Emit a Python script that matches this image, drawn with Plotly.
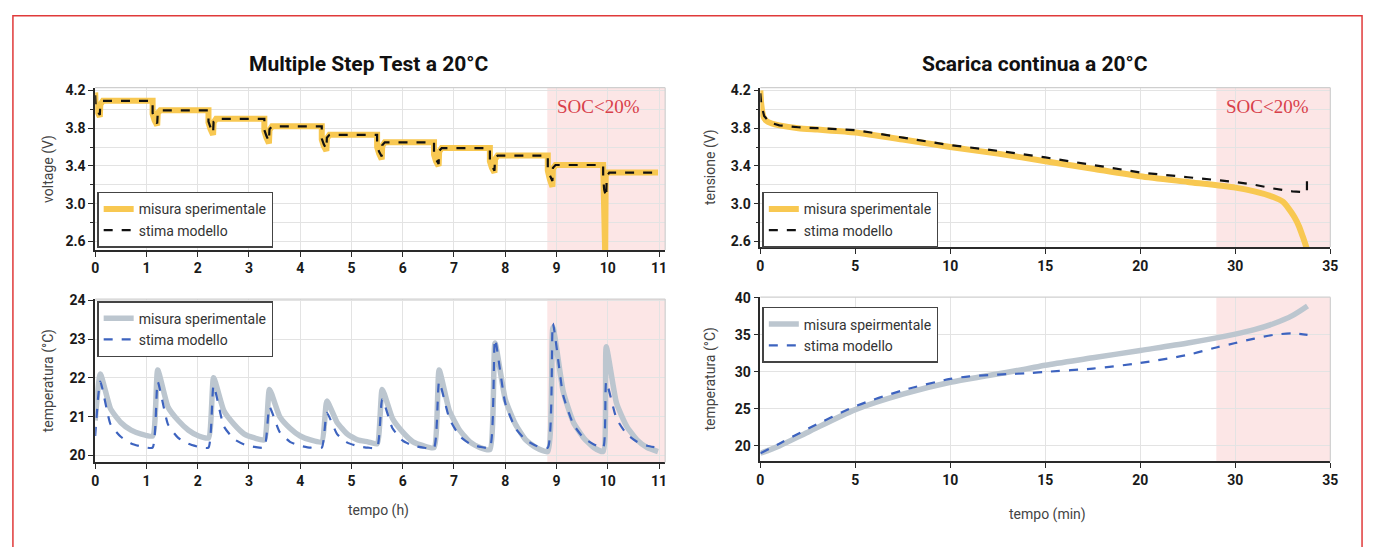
import plotly.graph_objects as go

W, H = 1375, 547

# ---------------- data ----------------
# Multiple step test: voltage (V) vs tempo (h)
tv_meas = [0, 0.01, 0.05, 0.09, 0.10, 0.15,
           1.12, 1.12, 1.16, 1.21, 1.22, 1.27,
           2.21, 2.21, 2.25, 2.30, 2.31, 2.36,
           3.30, 3.30, 3.34, 3.39, 3.40, 3.45,
           4.42, 4.42, 4.46, 4.51, 4.52, 4.57,
           5.50, 5.50, 5.54, 5.59, 5.60, 5.65,
           6.61, 6.61, 6.65, 6.70, 6.71, 6.76,
           7.70, 7.70, 7.74, 7.79, 7.80, 7.85,
           8.83, 8.83, 8.87, 8.92, 8.93, 8.98,
           9.91, 9.92, 9.95, 9.96, 10.00, 10.98]
v_meas = [4.18, 4.02, 3.97, 3.92, 4.05, 4.09,
          4.09, 3.95, 3.88, 3.83, 3.96, 3.99,
          3.99, 3.86, 3.79, 3.73, 3.86, 3.90,
          3.90, 3.77, 3.70, 3.64, 3.78, 3.82,
          3.82, 3.68, 3.61, 3.56, 3.69, 3.73,
          3.73, 3.60, 3.53, 3.47, 3.61, 3.65,
          3.65, 3.52, 3.45, 3.40, 3.55, 3.59,
          3.59, 3.45, 3.38, 3.33, 3.47, 3.51,
          3.51, 3.35, 3.26, 3.18, 3.37, 3.41,
          3.41, 3.20, 2.45, 3.30, 3.33, 3.33]
tv_mod = [0, 0.01, 0.05, 0.09, 0.10, 0.15,
          1.12, 1.12, 1.16, 1.21, 1.22, 1.27,
          2.21, 2.21, 2.25, 2.30, 2.31, 2.36,
          3.30, 3.30, 3.34, 3.39, 3.40, 3.45,
          4.42, 4.42, 4.46, 4.51, 4.52, 4.57,
          5.50, 5.50, 5.54, 5.59, 5.60, 5.65,
          6.61, 6.61, 6.65, 6.70, 6.71, 6.76,
          7.70, 7.70, 7.74, 7.79, 7.80, 7.85,
          8.83, 8.83, 8.87, 8.92, 8.93, 8.98,
          9.91, 9.91, 9.93, 9.97, 9.98, 10.03, 10.98]
v_mod = [4.15, 4.03, 3.98, 3.94, 4.06, 4.09,
         4.09, 3.96, 3.90, 3.85, 3.96, 3.99,
         3.99, 3.87, 3.81, 3.75, 3.87, 3.90,
         3.90, 3.78, 3.72, 3.66, 3.79, 3.82,
         3.82, 3.69, 3.63, 3.58, 3.70, 3.73,
         3.73, 3.61, 3.55, 3.50, 3.62, 3.65,
         3.65, 3.53, 3.47, 3.42, 3.56, 3.59,
         3.59, 3.46, 3.40, 3.35, 3.48, 3.51,
         3.51, 3.37, 3.30, 3.24, 3.38, 3.41,
         3.41, 3.28, 3.15, 3.07, 3.29, 3.33, 3.33]

# Multiple step test: temperatura (°C) vs tempo (h)
tt_meas = [0, 0.10, 0.30, 0.50, 0.70, 0.90,
           1.12, 1.22, 1.42, 1.62, 1.82, 2.02,
           2.21, 2.31, 2.51, 2.71, 2.91, 3.11,
           3.30, 3.40, 3.60, 3.80, 4.00, 4.20,
           4.42, 4.52, 4.72, 4.92, 5.12, 5.32,
           5.50, 5.60, 5.80, 6.00, 6.20, 6.40,
           6.61, 6.71, 6.91, 7.11, 7.31, 7.51,
           7.70, 7.80, 8.00, 8.20, 8.40, 8.60,
           8.83, 8.93, 9.13, 9.33, 9.53, 9.73,
           9.91, 9.97, 10.17, 10.37, 10.57, 10.77, 10.98]
temp_meas = [20.9, 22.1, 21.2, 20.85, 20.65, 20.55,
             20.5, 22.2, 21.25, 20.9, 20.65, 20.5,
             20.45, 22.0, 21.15, 20.8, 20.55, 20.45,
             20.4, 21.7, 21.0, 20.7, 20.5, 20.4,
             20.35, 21.4, 20.85, 20.55, 20.4, 20.35,
             20.3, 21.7, 20.95, 20.6, 20.35, 20.25,
             20.2, 22.2, 21.15, 20.65, 20.35, 20.2,
             20.15, 22.9, 21.45, 20.8, 20.4, 20.2,
             20.1, 23.3, 21.65, 20.85, 20.45, 20.2,
             20.1, 22.8, 21.35, 20.75, 20.4, 20.2, 20.1]
tt_mod = tt_meas
temp_mod = [20.5, 21.9, 20.8, 20.48, 20.31, 20.23,
            20.2, 21.9, 20.8, 20.45, 20.3, 20.22,
            20.2, 21.8, 20.75, 20.42, 20.28, 20.22,
            20.2, 21.25, 20.6, 20.35, 20.25, 20.2,
            20.2, 21.1, 20.55, 20.33, 20.24, 20.2,
            20.2, 21.45, 20.7, 20.38, 20.25, 20.2,
            20.2, 21.9, 20.95, 20.5, 20.3, 20.22,
            20.2, 23.0, 21.35, 20.7, 20.4, 20.25,
            20.2, 23.4, 21.55, 20.8, 20.45, 20.28,
            20.2, 21.9, 20.95, 20.55, 20.35, 20.25, 20.2]

# Scarica continua: tensione (V) vs tempo (axis positions)
xc_meas = [0, 0.05, 0.15, 0.3, 0.6, 1, 2, 3, 5, 7.5, 10, 12.5, 15, 17.5,
           20, 22.5, 25, 26, 27, 27.5, 27.8, 28.1, 28.35, 28.55, 28.75]
vc_meas = [4.2, 4.05, 3.93, 3.88, 3.85, 3.83, 3.80, 3.785, 3.755, 3.68, 3.60,
           3.53, 3.45, 3.37, 3.29, 3.23, 3.17, 3.13, 3.07, 3.02, 2.95, 2.86,
           2.76, 2.65, 2.53]
xc_mod = [0, 0.05, 0.2, 0.5, 1, 2, 3, 5, 7.5, 10, 12.5, 15, 17.5, 20, 22.5,
          25, 26, 27, 28, 28.75, 28.77, 28.77]
vc_mod = [4.17, 4.05, 3.93, 3.86, 3.83, 3.81, 3.80, 3.78, 3.70, 3.62, 3.56,
          3.49, 3.41, 3.33, 3.28, 3.23, 3.20, 3.16, 3.13, 3.12, 3.12, 3.27]

# Scarica continua: temperatura (°C)
xct_meas = [0, 1, 2.5, 5, 7.5, 10, 12, 14, 15, 17.5, 20, 22.5, 25, 26, 27, 28, 28.8]
tc_meas = [19.0, 20.0, 21.85, 24.9, 27.0, 28.6, 29.5, 30.4, 30.9, 31.9, 32.9,
           33.9, 35.1, 35.7, 36.5, 37.6, 38.9]
xct_mod = [0, 1, 2.5, 5, 7.5, 10, 11, 12, 13, 14, 15, 17.5, 20, 22.5, 24, 25,
           26, 27, 28, 28.8]
tc_mod = [19.0, 20.3, 22.3, 25.35, 27.5, 29.05, 29.4, 29.55, 29.7, 29.8, 30.0,
          30.45, 31.2, 32.3, 33.3, 33.9, 34.5, 35.0, 35.2, 35.0]

left_xticks = list(range(0, 12))
right_xtickvals = [0, 5, 10, 15, 20, 25, 30]
right_xticktext = ["0", "5", "10", "15", "20", "30", "35"]

soc_left_start = 8.82
soc_right_start = 24.0

# ---------------- styles ----------------
YELLOW = "#f8c851"
GRAYT = "#bcc6cf"
BLUE = "#3d63bf"
SHADE = "#fce6e6"
GRID = "#e3e3e3"
AX = "#2a2a2a"
FONT = "Roboto"

def px(x):
    return x / W

def py(y):
    return 1 - y / H

fig = go.Figure()

fig.add_trace(go.Scatter(x=tv_meas, y=v_meas, mode="lines", name="misura sperimentale",
                         line=dict(color=YELLOW, width=6), xaxis="x", yaxis="y", legend="legend"))
fig.add_trace(go.Scatter(x=tv_mod, y=v_mod, mode="lines", name="stima modello",
                         line=dict(color="#111111", width=2.2, dash="dash"), xaxis="x", yaxis="y",
                         legend="legend"))
fig.add_trace(go.Scatter(x=tt_meas, y=temp_meas, mode="lines", name="misura sperimentale",
                         line=dict(color=GRAYT, width=5.5, shape="spline", smoothing=0.5),
                         xaxis="x2", yaxis="y2", legend="legend2"))
fig.add_trace(go.Scatter(x=tt_mod, y=temp_mod, mode="lines", name="stima modello",
                         line=dict(color=BLUE, width=2.2, dash="dash", shape="spline", smoothing=0.5),
                         xaxis="x2", yaxis="y2", legend="legend2"))
fig.add_trace(go.Scatter(x=xc_meas, y=vc_meas, mode="lines", name="misura sperimentale",
                         line=dict(color=YELLOW, width=6, shape="spline", smoothing=0.6),
                         xaxis="x3", yaxis="y3", legend="legend3"))
fig.add_trace(go.Scatter(x=xc_mod, y=vc_mod, mode="lines", name="stima modello",
                         line=dict(color="#111111", width=2.2, dash="dash"), xaxis="x3", yaxis="y3",
                         legend="legend3"))
fig.add_trace(go.Scatter(x=xct_meas, y=tc_meas, mode="lines", name="misura speirmentale",
                         line=dict(color=GRAYT, width=5.5, shape="spline", smoothing=0.8),
                         xaxis="x4", yaxis="y4", legend="legend4"))
fig.add_trace(go.Scatter(x=xct_mod, y=tc_mod, mode="lines", name="stima modello",
                         line=dict(color=BLUE, width=2.2, dash="dash", shape="spline", smoothing=0.8),
                         xaxis="x4", yaxis="y4", legend="legend4"))

tickfont = dict(family=FONT, size=14, color="#1a1a1a", weight="bold")

def xax(domain, anchor, rng, **kw):
    d = dict(domain=domain, anchor=anchor, range=rng, showline=True, linecolor=AX, linewidth=1.5,
             ticks="outside", ticklen=5, tickcolor=AX, tickwidth=1.2, showgrid=True,
             gridcolor=GRID, gridwidth=1, zeroline=False, tickfont=tickfont, fixedrange=True)
    d.update(kw)
    return d

def yax(domain, anchor, rng, **kw):
    d = dict(domain=domain, anchor=anchor, range=rng, showline=True, linecolor=AX, linewidth=1.5,
             ticks="outside", ticklen=5, tickcolor=AX, tickwidth=1.2, showgrid=True,
             gridcolor=GRID, gridwidth=1, zeroline=False, tickfont=tickfont, fixedrange=True)
    d.update(kw)
    return d

LX = [px(92), px(667)]
RX = [px(763), px(1338)]
TLY = [py(247), py(82)]
BLY = [py(463), py(297)]
TRY = [py(244), py(82)]
BRY = [py(462), py(295)]

vminor = dict(dtick=0.2, tick0=2.6, ticks="outside", ticklen=3, tickcolor=AX, showgrid=True,
              gridcolor=GRID)

fig.update_layout(
    width=W, height=H, margin=dict(l=0, r=0, t=0, b=0), autosize=False,
    paper_bgcolor="white", plot_bgcolor="white",
    font=dict(family=FONT, color="#333"),
    xaxis=xax(LX, "y", [0, 11.12], tickvals=left_xticks),
    yaxis=yax(TLY, "x", [2.51, 4.23], tick0=2.6, dtick=0.4, tickformat=".1f", minor=vminor),
    xaxis2=xax(LX, "y2", [0, 11.12], tickvals=left_xticks),
    yaxis2=yax(BLY, "x2", [19.82, 24.03], tick0=20, dtick=1),
    xaxis3=xax(RX, "y3", [0, 30], tickvals=right_xtickvals, ticktext=right_xticktext),
    yaxis3=yax(TRY, "x3", [2.54, 4.23], tick0=2.6, dtick=0.4, tickformat=".1f", minor=vminor),
    xaxis4=xax(RX, "y4", [0, 30], tickvals=right_xtickvals, ticktext=right_xticktext),
    yaxis4=yax(BRY, "x4", [17.9, 40.1], tick0=20, dtick=5),
    showlegend=True,
)

legstyle = dict(bgcolor="white", bordercolor="#444", borderwidth=1.5,
                font=dict(family=FONT, size=14, color="#333"), xanchor="left", yanchor="top",
                tracegroupgap=0, itemwidth=30)
fig.update_layout(
    legend=dict(x=px(94), y=py(188), **legstyle),
    legend2=dict(x=px(94), y=py(299), **legstyle),
    legend3=dict(x=px(765), y=py(188), **legstyle),
    legend4=dict(x=px(765), y=py(305), **legstyle),
)

shapes = []
# SOC<20% shaded regions
for xr, yr in [("x", "y"), ("x2", "y2")]:
    shapes.append(dict(type="rect", xref=xr, yref=yr + " domain", x0=soc_left_start, x1=11.12,
                       y0=0, y1=1, fillcolor=SHADE, line=dict(width=0), layer="below"))
for xr, yr in [("x3", "y3"), ("x4", "y4")]:
    shapes.append(dict(type="rect", xref=xr, yref=yr + " domain", x0=soc_right_start, x1=30,
                       y0=0, y1=1, fillcolor=SHADE, line=dict(width=0), layer="below"))
# light frame on top/right
for xr, yr in [("x", "y"), ("x2", "y2"), ("x3", "y3"), ("x4", "y4")]:
    shapes.append(dict(type="line", xref=xr + " domain", yref=yr + " domain", x0=0, x1=1, y0=1, y1=1,
                       line=dict(color="#cfcfcf", width=1.2)))
    shapes.append(dict(type="line", xref=xr + " domain", yref=yr + " domain", x0=1, x1=1, y0=0, y1=1,
                       line=dict(color="#cfcfcf", width=1.2)))
# red outer border
shapes.append(dict(type="rect", xref="paper", yref="paper", x0=px(9), x1=px(1370), y0=-0.1,
                   y1=py(9), line=dict(color="#e03a3a", width=1.5), fillcolor="rgba(0,0,0,0)"))
fig.update_layout(shapes=shapes)

ann = []
def a(text, x, y, size, color="#333", bold=False, angle=0, family=FONT):
    ann.append(dict(text=text, x=px(x), y=py(y), xref="paper", yref="paper", showarrow=False,
                    xanchor="center", yanchor="middle", textangle=angle,
                    font=dict(family=family, size=size, color=color,
                              weight="bold" if bold else "normal")))

a("Multiple Step Test a 20°C", 368, 58, 21, "#111", True)
a("Scarica continua a 20°C", 1040, 58, 21, "#111", True)
a("voltage (V)", 45, 165, 14, "#444", angle=-90)
a("temperatura (°C)", 45, 380, 14, "#444", angle=-90)
a("tensione (V)", 713, 163, 14, "#444", angle=-90)
a("temperatura (°C)", 713, 378, 14, "#444", angle=-90)
a("tempo (h)", 378, 512, 14, "#444")
a("tempo (min)", 1053, 516, 14, "#444")
a("SOC<20%", 600, 101, 19, "#d8404a", family="Liberation Serif")
a("SOC<20%", 1275, 101, 19, "#d8404a", family="Liberation Serif")
fig.update_layout(annotations=ann)

fig.write_html("out.html", config={"responsive": False, "displayModeBar": False},
               post_script="document.body.style.margin='0';document.body.style.padding='0';"
                           "document.body.style.overflow='hidden';"
                           "document.documentElement.style.overflow='hidden';")
